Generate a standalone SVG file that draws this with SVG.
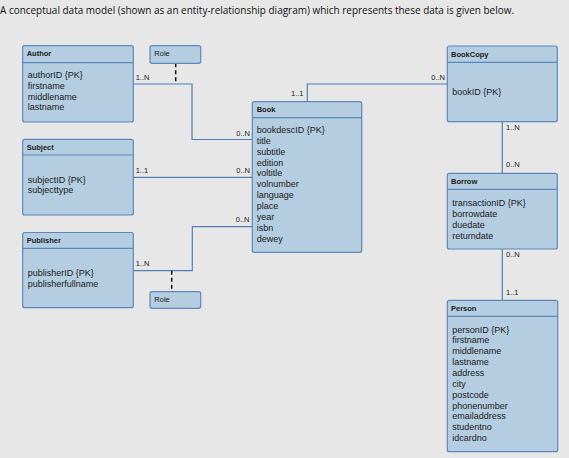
<svg xmlns="http://www.w3.org/2000/svg" width="569" height="458" viewBox="0 0 569 458">
<style>
.ent{fill:#b4cde0;stroke:#5b88bb;stroke-width:1.2}
.div{stroke:#5b88bb;stroke-width:1.2}
.hd{font-family:"Liberation Sans",Arial,sans-serif;font-size:7.5px;font-weight:bold;fill:#1a1a1a}
.at{font-family:"Liberation Sans",Arial,sans-serif;font-size:9px;fill:#1a1a1a}
.lb{font-family:"Liberation Sans",Arial,sans-serif;font-size:7.5px;fill:#1a1a1a}
.rl{font-family:"Liberation Sans",Arial,sans-serif;font-size:7.5px;fill:#1a1a1a}
.ln{fill:none;stroke:#4f7fb5;stroke-width:1.2}
.ds{fill:none;stroke:#111;stroke-width:1.5;stroke-dasharray:4,3}
</style>
<rect x="0" y="0" width="569" height="458" fill="#e7e7e7"/>
<text x="0" y="14" font-family="'Open Sans','Liberation Sans',sans-serif" font-size="11" fill="#111" textLength="514" lengthAdjust="spacingAndGlyphs">A conceptual data model (shown as an entity-relationship diagram) which represents these data is given below.</text>

<g id="connectors">
<polyline class="ln" points="133,84 192,84 192,139.5 252,139.5"/>
<line class="ln" x1="133" y1="177.3" x2="252" y2="177.3"/>
<polyline class="ln" points="133,270.7 192.3,270.7 192.3,226.7 252,226.7"/>
<polyline class="ln" points="307.3,101.7 307.3,84 447,84"/>
<line class="ln" x1="502.3" y1="121.7" x2="502.3" y2="173.3"/>
<line class="ln" x1="502.3" y1="249" x2="502.3" y2="300.3"/>
<line class="ds" x1="175.7" y1="63.3" x2="175.7" y2="84"/>
<line class="ds" x1="171.7" y1="270.7" x2="171.7" y2="291.7"/>
<text class="lb" x="135.7" y="80">1..N</text>
<text class="lb" x="250" y="136" text-anchor="end">0..N</text>
<text class="lb" x="135.7" y="173">1..1</text>
<text class="lb" x="250" y="173" text-anchor="end">0..N</text>
<text class="lb" x="135.7" y="265.5">1..N</text>
<text class="lb" x="249.5" y="221.5" text-anchor="end">0..N</text>
<text class="lb" x="291" y="96">1..1</text>
<text class="lb" x="445" y="80" text-anchor="end">0..N</text>
<text class="lb" x="506" y="130">1..N</text>
<text class="lb" x="506" y="167">0..N</text>
<text class="lb" x="506" y="257">0..N</text>
<text class="lb" x="506" y="294.5">1..1</text>
</g>

<g id="author">
<rect class="ent" x="22.7" y="45.7" width="110.6" height="76.3" rx="2"/>
<line class="div" x1="22.7" y1="62.7" x2="133.3" y2="62.7"/>
<text class="hd" x="26.7" y="56">Author</text>
<text class="at" x="27.7" y="78">authorID {PK}</text>
<text class="at" x="27.7" y="88.8">firstname</text>
<text class="at" x="27.7" y="99.6">middlename</text>
<text class="at" x="27.7" y="110.4">lastname</text>
</g>

<g id="role1">
<rect class="ent" x="150" y="45.7" width="50.7" height="17.6" rx="2"/>
<text class="rl" x="154.3" y="56">Role</text>
</g>

<g id="subject">
<rect class="ent" x="22.7" y="139.3" width="110.6" height="75.7" rx="2"/>
<line class="div" x1="22.7" y1="155" x2="133.3" y2="155"/>
<text class="hd" x="26.7" y="149.5">Subject</text>
<text class="at" x="27.7" y="182.5">subjectID {PK}</text>
<text class="at" x="27.7" y="193.3">subjecttype</text>
</g>

<g id="publisher">
<rect class="ent" x="22.7" y="232.5" width="110.6" height="75.2" rx="2"/>
<line class="div" x1="22.7" y1="248.3" x2="133.3" y2="248.3"/>
<text class="hd" x="26.7" y="242.5">Publisher</text>
<text class="at" x="27.7" y="276">publisherID {PK}</text>
<text class="at" x="27.7" y="286.8">publisherfullname</text>
</g>

<g id="role2">
<rect class="ent" x="150" y="291.7" width="50.7" height="16.6" rx="2"/>
<text class="rl" x="154.3" y="301.5">Role</text>
</g>

<g id="book">
<rect class="ent" x="252.3" y="101.7" width="109.4" height="150.6" rx="2"/>
<line class="div" x1="252.3" y1="117.7" x2="361.7" y2="117.7"/>
<text class="hd" x="256.7" y="111.5">Book</text>
<text class="at" x="256.7" y="133">bookdescID {PK}</text>
<text class="at" x="256.7" y="143.9">title</text>
<text class="at" x="256.7" y="154.7">subtitle</text>
<text class="at" x="256.7" y="165.6">edition</text>
<text class="at" x="256.7" y="176.4">voltitle</text>
<text class="at" x="256.7" y="187.3">volnumber</text>
<text class="at" x="256.7" y="198.1">language</text>
<text class="at" x="256.7" y="209">place</text>
<text class="at" x="256.7" y="219.8">year</text>
<text class="at" x="256.7" y="230.7">isbn</text>
<text class="at" x="256.7" y="241.5">dewey</text>
</g>

<g id="bookcopy">
<rect class="ent" x="447.3" y="46" width="110" height="75.7" rx="2"/>
<line class="div" x1="447.3" y1="62.3" x2="557.3" y2="62.3"/>
<text class="hd" x="451" y="56.5">BookCopy</text>
<text class="at" x="452.3" y="95">bookID {PK}</text>
</g>

<g id="borrow">
<rect class="ent" x="447.3" y="173.3" width="110" height="75.7" rx="2"/>
<line class="div" x1="447.3" y1="189.3" x2="557.3" y2="189.3"/>
<text class="hd" x="451" y="183.5">Borrow</text>
<text class="at" x="452.3" y="206">transactionID {PK}</text>
<text class="at" x="452.3" y="216.8">borrowdate</text>
<text class="at" x="452.3" y="227.6">duedate</text>
<text class="at" x="452.3" y="238.5">returndate</text>
</g>

<g id="person">
<rect class="ent" x="447.3" y="300.3" width="110.4" height="151.4" rx="2"/>
<line class="div" x1="447.3" y1="316.3" x2="557.7" y2="316.3"/>
<text class="hd" x="451" y="310.5">Person</text>
<text class="at" x="452.3" y="332.6">personID {PK}</text>
<text class="at" x="452.3" y="343.4">firstname</text>
<text class="at" x="452.3" y="354.3">middlename</text>
<text class="at" x="452.3" y="365.1">lastname</text>
<text class="at" x="452.3" y="376">address</text>
<text class="at" x="452.3" y="386.8">city</text>
<text class="at" x="452.3" y="397.6">postcode</text>
<text class="at" x="452.3" y="408.5">phonenumber</text>
<text class="at" x="452.3" y="419.3">emailaddress</text>
<text class="at" x="452.3" y="430.2">studentno</text>
<text class="at" x="452.3" y="441">idcardno</text>
</g>
</svg>
